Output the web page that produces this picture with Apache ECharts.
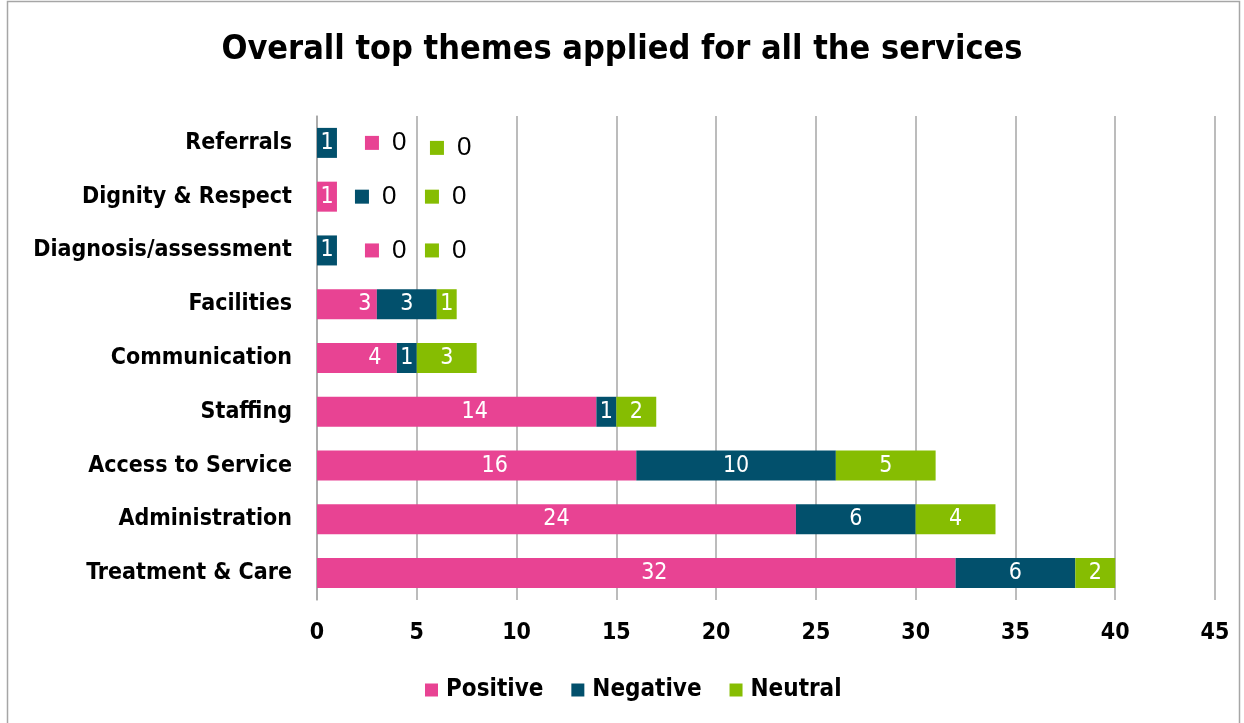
<!DOCTYPE html>
<html>
<head>
<meta charset="utf-8">
<script src="https://cdn.jsdelivr.net/npm/echarts@6/dist/echarts.min.js"></script>
<style>
  html, body { margin: 0; padding: 0; background: #fff; }
  #chart { width: 1244px; height: 723px; }
</style>
</head>
<body>
<div id="chart"></div>
<script>
// Themes, listed bottom to top as they appear on the category axis
const categories = ['Treatment & Care', 'Administration', 'Access to Service', 'Staffing',
  'Communication', 'Facilities', 'Diagnosis/assessment', 'Dignity & Respect', 'Referrals'];
const positive = [32, 24, 16, 14, 4, 3, 0, 1, 0];
const negative = [6, 6, 10, 1, 1, 3, 1, 0, 1];
const neutral  = [2, 4, 5, 2, 3, 1, 0, 0, 0];
const xTicks = [0, 5, 10, 15, 20, 25, 30, 35, 40, 45];

const seriesNames = ['Positive', 'Negative', 'Neutral'];
const seriesColors = ['#E84393', '#02506C', '#86BD02'];
const seriesData = [positive, negative, neutral];

const FONT = '"DejaVu Sans Condensed", "DejaVu Sans", sans-serif';
const ZERO_FONT = '"Liberation Sans", Arial, sans-serif';
const gridLeft = 317, gridRight = 29, chartW = 1244;
const xMax = xTicks[xTicks.length - 1];
const pxPerUnit = (chartW - gridLeft - gridRight) / xMax;

// horizontal nudge of the value labels on the Positive bars
const positiveLabelShift = [18, 0, 18, 18, 18, 18, 0, 0, 0];
// gaps (px) from the end of a row's bars to its zero-value markers
const zeroGaps = [[28, 93], [18, 88], [28, 88]];

function zeroRank(row, s) {
  let r = 0;
  for (let k = 0; k < s; k++) if (seriesData[k][row] === 0) r++;
  return r;
}

function buildItems(s) {
  return seriesData[s].map((v, row) => {
    if (v !== 0) {
      const off = s === 0 ? [positiveLabelShift[row], 0] : [0, 0];
      return { value: v, label: { offset: off } };
    }
    let stackStart = 0;
    for (let k = 0; k < s; k++) stackStart += seriesData[k][row];
    const total = positive[row] + negative[row] + neutral[row];
    const rank = zeroRank(row, s);
    const gapSet = row === 8 ? zeroGaps[0] : row === 7 ? zeroGaps[1] : zeroGaps[2];
    const dist = (total - stackStart) * pxPerUnit + gapSet[Math.min(rank, 1)];
    const dy = (row === 8 && s === 2) ? 5 : 0;
    return {
      value: v,
      label: { position: 'right', distance: dist, offset: [0, dy] }
    };
  });
}

const chart = echarts.init(document.getElementById('chart'), null, { renderer: 'canvas' });

const series = seriesNames.map((name, s) => ({
  name: name,
  type: 'bar',
  stack: 'total',
  barWidth: 30,
  itemStyle: { color: seriesColors[s] },
  label: {
    show: true,
    position: 'inside',
    color: '#fff',
    fontFamily: FONT,
    fontSize: 23,
    formatter: p => p.value === 0 ? '{sq| }{z|0}' : String(p.value),
    rich: {
      sq: { backgroundColor: seriesColors[s], width: 14, height: 14, padding: 0 },
      z: { color: '#000', fontSize: 26, fontFamily: ZERO_FONT, padding: [0, 0, 0, 13] }
    }
  },
  emphasis: { disabled: true },
  data: buildItems(s)
}));

chart.setOption({
  animation: false,
  backgroundColor: '#fff',
  title: {
    text: 'Overall top themes applied for all the services',
    left: 'center',
    top: 28,
    textStyle: { fontFamily: FONT, fontWeight: 'bold', fontSize: 34, color: '#000' }
  },
  legend: {
    data: seriesNames,
    left: 420,
    top: 673,
    itemWidth: 13,
    itemHeight: 13,
    itemGap: 28,
    icon: 'rect',
    textStyle: { fontFamily: FONT, fontWeight: 'bold', fontSize: 24, color: '#000', padding: [0, 0, 0, 3] }
  },
  grid: { left: gridLeft, right: gridRight, top: 116, bottom: 123, containLabel: false },
  xAxis: {
    type: 'value',
    min: 0,
    max: xMax,
    interval: 5,
    axisLine: { show: false },
    axisTick: { show: false },
    splitLine: { show: true, lineStyle: { color: '#A6A6A6', width: 1.5 } },
    axisLabel: { fontFamily: FONT, fontWeight: 'bold', fontSize: 23, color: '#000', margin: 22 }
  },
  yAxis: {
    type: 'category',
    data: categories,
    axisLine: { show: true, lineStyle: { color: '#A6A6A6', width: 1.5 } },
    axisTick: { show: false },
    axisLabel: { fontFamily: FONT, fontWeight: 'bold', fontSize: 23, color: '#000', margin: 25 }
  },
  graphic: [{
    type: 'rect',
    shape: { x: 7.5, y: 1.5, width: 1232, height: 740 },
    style: { fill: 'none', stroke: '#A6A6A6', lineWidth: 1.5 },
    silent: true,
    z: -1
  }],
  series: series
});
</script>
</body>
</html>
